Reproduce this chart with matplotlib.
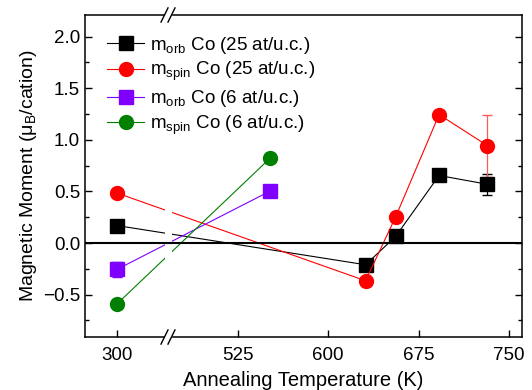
import numpy as np
import matplotlib
matplotlib.use('Agg')
import matplotlib.pyplot as plt

plt.rcParams['font.family'] = ['Liberation Sans', 'DejaVu Sans']
plt.rcParams['mathtext.fontset'] = 'custom'
plt.rcParams['mathtext.rm'] = 'Liberation Sans'
plt.rcParams['mathtext.it'] = 'Liberation Sans:italic'

# data
temp_25 = [300, 631, 656, 692, 732]
morb_25 = [0.17, -0.21, 0.065, 0.655, 0.57]
morb_25_err = [0, 0, 0, 0, 0.10]
mspin_25 = [0.485, -0.365, 0.255, 1.245, 0.945]
mspin_25_err = [0, 0, 0, 0, 0.30]

temp_6 = [300, 552]
morb_6 = [-0.255, 0.505]
morb_6_err = [0.075, 0]
mspin_6 = [-0.59, 0.825]

xticks = [300, 525, 600, 675, 750]

# axis break (compressed region)
b0, b1, gap = 339.8, 470.3, 5.8


def fwd(x):
    x = np.asarray(x, dtype=float)
    return np.where(x < b0, x,
                    np.where(x > b1, x - (b1 - b0) + gap,
                             b0 + (x - b0) * gap / (b1 - b0)))


def inv(u):
    u = np.asarray(u, dtype=float)
    return np.where(u < b0, u,
                    np.where(u > b0 + gap, u + (b1 - b0) - gap,
                             b0 + (u - b0) * (b1 - b0) / gap))


fig = plt.figure(figsize=(5.32, 3.90), dpi=100)
ax = fig.add_axes([85 / 532, 1 - 337 / 390, 437 / 532, 322 / 390])
ax.set_xscale('function', functions=(fwd, inv))

ms = 10
# error bars (no markers)
ax.errorbar(temp_25, morb_25, yerr=morb_25_err, fmt='none', ecolor='black',
            capsize=3.5, elinewidth=0.9, zorder=2)
ax.errorbar(temp_25, mspin_25, yerr=mspin_25_err, fmt='none',
            ecolor='#ff5a5a', capsize=3.5, elinewidth=0.9, zorder=2)
ax.errorbar(temp_6, morb_6, yerr=morb_6_err, fmt='none', ecolor='#8000ff',
            capsize=3.5, elinewidth=0.9, zorder=2)

ax.plot(temp_25, morb_25, color='black', marker='s', ms=ms, lw=0.8,
        label=r'm$_{\rm orb}$ Co (25 at/u.c.)', zorder=3)
ax.plot(temp_25, mspin_25, color='#ff0000', marker='o', ms=ms, lw=0.8,
        label=r'm$_{\rm spin}$ Co (25 at/u.c.)', zorder=3)
ax.plot(temp_6, morb_6, color='#8000ff', marker='s', ms=ms, lw=0.8,
        label=r'm$_{\rm orb}$ Co (6 at/u.c.)', zorder=3)
ax.plot(temp_6, mspin_6, color='#008000', marker='o', ms=ms, lw=0.8,
        label=r'm$_{\rm spin}$ Co (6 at/u.c.)', zorder=3)

# gap in the lines at the break
ax.axvspan(b0, b1, color='white', zorder=4, lw=0)
ax.axhline(0, color='black', lw=1.5, zorder=5)

ax.set_xlim(273.5, 760.8)
ax.set_ylim(-0.91, 2.21)
ax.set_xticks(xticks)
ax.set_xticklabels([str(t) for t in xticks])
ax.set_yticks([-0.5, 0.0, 0.5, 1.0, 1.5, 2.0])
ax.set_yticks(np.arange(-0.75, 2.01, 0.25), minor=True)
ax.xaxis.set_minor_locator(matplotlib.ticker.NullLocator())
ax.tick_params(axis='both', which='both', direction='in', labelsize=13.5,
               width=1.0)
ax.tick_params(axis='y', which='both', right=True)
ax.tick_params(axis='x', pad=7)
ax.tick_params(which='major', length=5)
ax.tick_params(which='minor', length=3)
for s in ax.spines.values():
    s.set_linewidth(1.1)

# break marks on top and bottom spines
xb = (168 - 85) / 437
for yb in (0, 1):
    ax.add_patch(plt.Rectangle((xb - 0.008, yb - 0.01), 0.016, 0.02,
                               transform=ax.transAxes, color='white',
                               clip_on=False, zorder=6))
    for dx in (-0.008, 0.008):
        ax.plot([xb + dx - 0.008, xb + dx + 0.008], [yb - 0.022, yb + 0.022],
                transform=ax.transAxes, color='black', lw=1.0,
                clip_on=False, zorder=7)

ax.set_xlabel('Annealing Temperature (K)', fontsize=14.5, labelpad=5)
ax.set_ylabel('Magnetic Moment (μ$_{\\rm B}$/cation)', fontsize=14,
              labelpad=3)

ax.legend(loc='upper left', frameon=False, fontsize=13.5, numpoints=1,
          handlelength=2.0, handletextpad=0.3, labelspacing=0.25,
          borderaxespad=0.3, bbox_to_anchor=(0.02, 0.98))

fig.savefig('out.png', dpi=100)
